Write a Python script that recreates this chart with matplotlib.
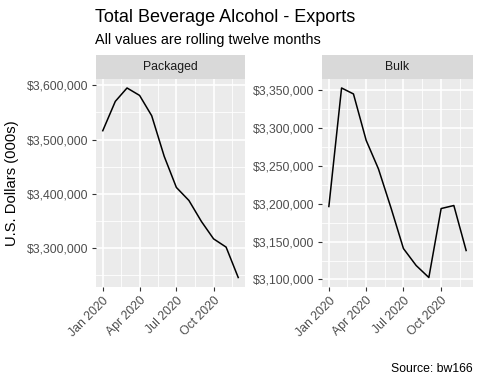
import matplotlib
matplotlib.use("Agg")
import matplotlib.pyplot as plt
import matplotlib.dates as mdates
from matplotlib.ticker import FuncFormatter, MultipleLocator
import numpy as np
import datetime as dt

plt.rcParams['font.family'] = ['Liberation Sans', 'DejaVu Sans']

months = [dt.date(2020, m, 1) for m in range(1, 13)]
packaged = [3516400, 3570500, 3595200, 3581500, 3544000, 3469000,
            3411800, 3387800, 3349000, 3317000, 3301800, 3245700]
bulk = [3196500, 3353200, 3345300, 3284000, 3246200, 3194000,
        3140900, 3118500, 3102600, 3193800, 3197800, 3138300]
panels = ["Packaged", "Bulk"]
y_steps = [100000, 50000]

W, H = 480, 384
fig = plt.figure(figsize=(4.8, 3.84), dpi=100)

def px_axes(x0, x1, y0, y1):
    return fig.add_axes([x0 / W, 1 - y1 / H, (x1 - x0) / W, (y1 - y0) / H])

dollar = FuncFormatter(lambda v, p: "${:,.0f}".format(v))
tick_col = "#4D4D4D"

boxes = [(96, 245), (322, 473)]
for (x0, x1), name, vals, step in zip(boxes, panels, [packaged, bulk], y_steps):
    ax = px_axes(x0, x1, 78.5, 287)
    ax.set_facecolor("#EBEBEB")
    ax.plot(months, vals, color="black", lw=1.1)

    d0 = mdates.date2num(months[0]); d1 = mdates.date2num(months[-1])
    pad = (d1 - d0) * 0.05
    ax.set_xlim(d0 - pad, d1 + pad)
    lo, hi = min(vals), max(vals)
    ypad = (hi - lo) * 0.05
    ax.set_ylim(lo - ypad, hi + ypad)

    majors = [dt.date(2020, m, 1) for m in (1, 4, 7, 10)]
    ax.set_xticks([mdates.date2num(d) for d in majors])
    mins = [mdates.date2num(dt.date(2020, 2, 15)), mdates.date2num(dt.date(2020, 5, 16)),
            mdates.date2num(dt.date(2020, 8, 16)), mdates.date2num(dt.date(2020, 11, 16))]
    ax.set_xticks(mins, minor=True)
    ax.set_xticklabels([d.strftime("%b %Y") for d in majors], rotation=45,
                       ha="right", rotation_mode="anchor", fontsize=8.8, color=tick_col)
    ax.yaxis.set_major_locator(MultipleLocator(step))
    ax.yaxis.set_minor_locator(MultipleLocator(step / 2))
    ax.yaxis.set_major_formatter(dollar)
    ax.tick_params(axis="y", labelsize=8.8, labelcolor=tick_col)
    ax.tick_params(which="major", length=3, width=0.8, color="#333333", pad=2.5)
    ax.tick_params(which="minor", length=0)
    ax.grid(which="major", color="white", lw=1.2)
    ax.grid(which="minor", color="white", lw=0.6)
    ax.set_axisbelow(True)
    for s in ax.spines.values():
        s.set_visible(False)

    sax = px_axes(x0, x1, 55, 78.5)
    sax.set_facecolor("#D9D9D9")
    sax.set_xticks([]); sax.set_yticks([])
    for s in sax.spines.values():
        s.set_visible(False)
    sax.text(0.5, 0.5, name, ha="center", va="center", fontsize=8.8, color="#1A1A1A")

fig.text(95 / W, 1 - 17 / H, "Total Beverage Alcohol - Exports", fontsize=13,
         ha="left", va="center")
fig.text(95 / W, 1 - 40 / H, "All values are rolling twelve months", fontsize=10.4,
         ha="left", va="center")
fig.text(12 / W, 1 - 183 / H, "U.S. Dollars (000s)", fontsize=10.6, rotation=90,
         ha="center", va="center")
fig.text(473 / W, 1 - 369 / H, "Source: bw166", fontsize=8.8, ha="right", va="center")

fig.savefig("out.png", dpi=100)
